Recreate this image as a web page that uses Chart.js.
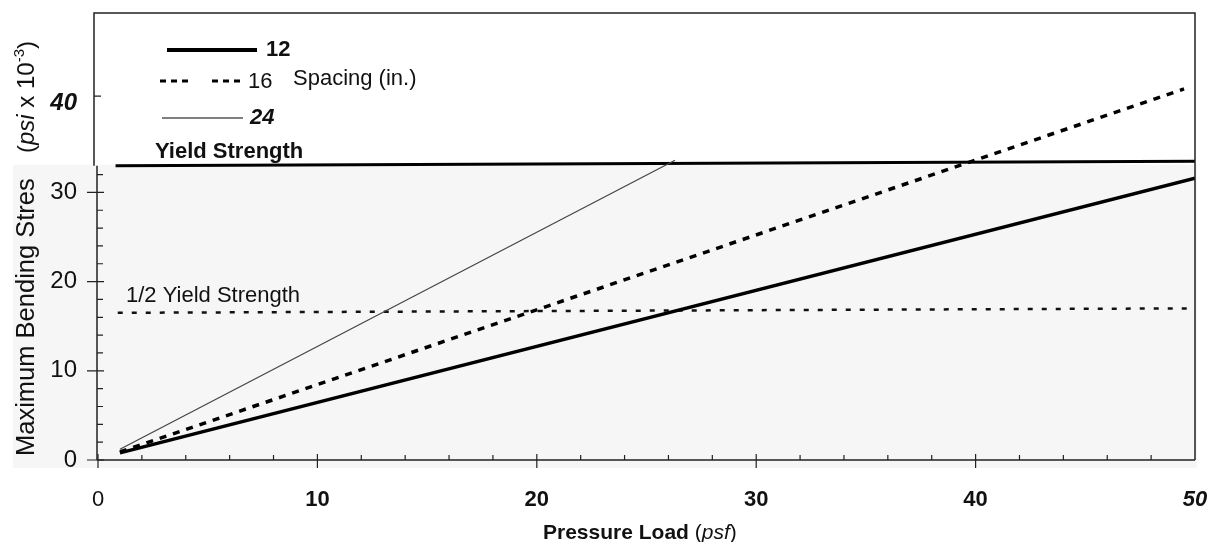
<!DOCTYPE html>
<html>
<head>
<meta charset="utf-8">
<script src="https://cdn.jsdelivr.net/npm/chart.js@4/dist/chart.umd.min.js"></script>
<style>
  body { margin: 0; background: #fff; }
  #wrap { width: 1215px; height: 542px; }
</style>
</head>
<body>
<div id="wrap"><canvas id="c" width="1215" height="542"></canvas></div>
<script>
// values (load in psf, stress in psi x 10^-3)
const load12 = [1, 50];
const stress12 = [0.8, 31.6];
const load16 = [1, 49.5];
const stress16 = [0.9, 41.6];
const load24 = [1, 26.3];
const stress24 = [1.2, 33.6];
const loadYield = [0.8, 50];
const stressYield = [33.0, 33.5];
const loadHalf = [0.9, 49.8];
const stressHalf = [16.5, 17.0];

const xTicks = [0, 10, 20, 30, 40, 50];
const yTicks = [0, 10, 20, 30, 40];

const FONT = "'Liberation Sans', Arial, sans-serif";

function pts(xs, ys) {
  return xs.map((x, i) => ({ x: x, y: ys[i] }));
}

const decor = {
  id: 'decor',
  beforeDraw(chart) {
    const ctx = chart.ctx;
    const a = chart.chartArea;
    const y = chart.scales.y;
    ctx.save();
    ctx.fillStyle = '#fff';
    ctx.fillRect(0, 0, chart.width, chart.height);
    // scanned grey panel under the yield line
    ctx.fillStyle = '#f6f6f6';
    const top = y.getPixelForValue(33.0) - 1;
    ctx.fillRect(13, top, a.right + 2 - 13, 468 - top);
    ctx.restore();
  },
  afterDraw(chart) {
    const ctx = chart.ctx;
    const a = chart.chartArea;
    const xs = chart.scales.x;
    const ys = chart.scales.y;
    ctx.save();
    ctx.strokeStyle = '#222';
    ctx.lineWidth = 1.5;
    // frame
    ctx.beginPath();
    ctx.moveTo(a.left - 4, ys.getPixelForValue(33));
    ctx.lineTo(a.left - 4, a.top - 1);
    ctx.lineTo(a.right, a.top - 1);
    ctx.lineTo(a.right, a.bottom);
    ctx.stroke();
    ctx.beginPath();
    ctx.moveTo(a.left - 1, a.bottom);
    ctx.lineTo(a.left - 1, ys.getPixelForValue(33));
    ctx.moveTo(a.left - 1, a.bottom);
    ctx.lineTo(a.right, a.bottom);
    ctx.stroke();

    // tick marks
    ctx.lineWidth = 1.2;
    ctx.beginPath();
    for (let v = 0; v <= 32; v += 2) {
      const p = ys.getPixelForValue(v);
      if (v % 10 === 0) {
        ctx.moveTo(a.left - 11, p); ctx.lineTo(a.left + 6, p);
      } else {
        ctx.moveTo(a.left - 1, p); ctx.lineTo(a.left + 5, p);
      }
    }
    const p40 = ys.getPixelForValue(40.8);
    ctx.moveTo(a.left - 4, p40); ctx.lineTo(a.left + 3, p40);
    for (let v = 0; v < 50; v += 2) {
      const p = xs.getPixelForValue(v);
      if (v % 10 === 0) {
        ctx.moveTo(p, a.bottom - 6); ctx.lineTo(p, a.bottom + 8);
      } else {
        ctx.moveTo(p, a.bottom); ctx.lineTo(p, a.bottom - 5);
      }
    }
    ctx.stroke();

    ctx.fillStyle = '#111';
    ctx.textBaseline = 'middle';

    // legend
    ctx.strokeStyle = '#000';
    ctx.lineWidth = 4;
    ctx.beginPath(); ctx.moveTo(167, 50); ctx.lineTo(257, 50); ctx.stroke();
    ctx.font = 'bold 22px ' + FONT;
    ctx.fillText('12', 266, 50);

    ctx.lineWidth = 3;
    ctx.setLineDash([6, 5]);
    ctx.beginPath(); ctx.moveTo(160, 81); ctx.lineTo(192, 81); ctx.stroke();
    ctx.beginPath(); ctx.moveTo(212, 81); ctx.lineTo(245, 81); ctx.stroke();
    ctx.setLineDash([]);
    ctx.font = '22px ' + FONT;
    ctx.fillText('16', 248, 82);
    ctx.fillText('Spacing (in.)', 293, 79);

    ctx.strokeStyle = '#555';
    ctx.lineWidth = 1.3;
    ctx.beginPath(); ctx.moveTo(162, 118); ctx.lineTo(243, 118); ctx.stroke();
    ctx.font = 'italic bold 22px ' + FONT;
    ctx.fillText('24', 250, 118);

    // reference line labels
    ctx.font = 'bold 22px ' + FONT;
    ctx.fillText('Yield Strength', 155, 152);
    ctx.font = '22px ' + FONT;
    ctx.fillText('1/2 Yield Strength', 126, 296);

    // x title
    ctx.textBaseline = 'alphabetic';
    let x = 543;
    const parts = [
      ['bold 21px ', 'Pressure Load '],
      ['21px ', '('],
      ['italic 21px ', 'psf'],
      ['21px ', ')']
    ];
    parts.forEach(function (p) {
      ctx.font = p[0] + FONT;
      ctx.fillText(p[1], x, 539);
      x += ctx.measureText(p[1]).width;
    });

    // y title (rotated)
    ctx.translate(34, 456);
    ctx.rotate(-Math.PI / 2);
    ctx.font = '25.5px ' + FONT;
    ctx.fillText('Maximum Bending Stres', 0, 0);
    let t = 303;
    const yparts = [
      ['24px ', '(', 0],
      ['italic 24px ', 'psi', 0],
      ['24px ', ' x 10', 0],
      ['15px ', '-3', -10],
      ['24px ', ')', 0]
    ];
    yparts.forEach(function (p) {
      ctx.font = p[0] + FONT;
      ctx.fillText(p[1], t, p[2]);
      t += ctx.measureText(p[1]).width;
    });
    ctx.restore();
  }
};

new Chart(document.getElementById('c'), {
  type: 'line',
  data: {
    datasets: [
      { label: '12', data: pts(load12, stress12), borderColor: '#000', borderWidth: 3.5 },
      { label: '16', data: pts(load16, stress16), borderColor: '#000', borderWidth: 3.5, borderDash: [7, 7] },
      { label: '24', data: pts(load24, stress24), borderColor: '#444', borderWidth: 1.2 },
      { label: 'Yield Strength', data: pts(loadYield, stressYield), borderColor: '#000', borderWidth: 3 },
      { label: '1/2 Yield Strength', data: pts(loadHalf, stressHalf), borderColor: '#111', borderWidth: 2.5, borderDash: [5, 9] }
    ]
  },
  options: {
    responsive: false,
    animation: false,
    elements: { point: { radius: 0 }, line: { tension: 0, borderCapStyle: 'butt' } },
    layout: { padding: { left: 0, right: 20, top: 14, bottom: 0 } },
    plugins: { legend: { display: false }, tooltip: { enabled: false } },
    scales: {
      x: {
        type: 'linear',
        min: 0,
        max: 50,
        grid: { display: false, drawTicks: false },
        border: { display: false },
        afterFit(s) { s.height = 82; s.paddingLeft = 0; s.paddingRight = 0; },
        afterBuildTicks(s) { s.ticks = xTicks.map(v => ({ value: v })); },
        ticks: {
          padding: 27,
          color: '#111',
          font: function (c) {
            const v = c.tick ? c.tick.value : 0;
            if (v === 0) return { family: FONT, size: 22 };
            if (v === 50) return { family: FONT, size: 22, weight: 'bold', style: 'italic' };
            return { family: FONT, size: 22, weight: 'bold' };
          }
        }
      },
      y: {
        min: 0,
        max: 50,
        grid: { display: false, drawTicks: false },
        border: { display: false },
        afterFit(s) { s.width = 98; s.paddingTop = 0; s.paddingBottom = 0; },
        afterBuildTicks(s) { s.ticks = yTicks.map(v => ({ value: v })); },
        ticks: {
          padding: 21,
          color: '#111',
          font: function (c) {
            const v = c.tick ? c.tick.value : 0;
            if (v === 40) return { family: FONT, size: 24, weight: 'bold', style: 'italic' };
            return { family: FONT, size: 24 };
          }
        }
      }
    }
  },
  plugins: [decor]
});
</script>
</body>
</html>
